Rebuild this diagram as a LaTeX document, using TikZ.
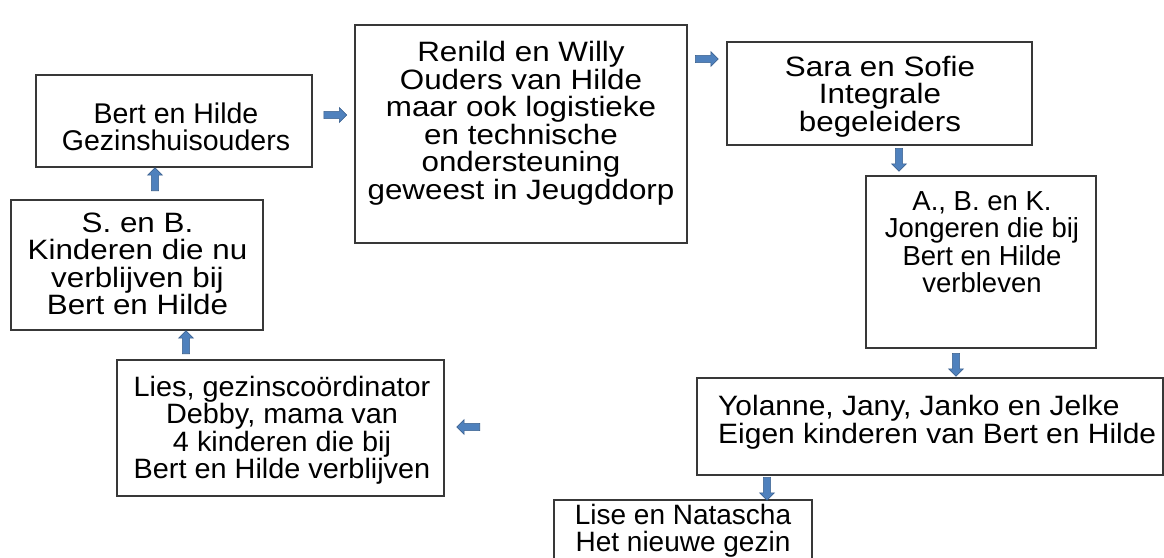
\documentclass[tikz,border=0pt]{standalone}
\usepackage{fontspec}
\setmainfont{Liberation Sans}
\newfontfamily\fstretchA[FakeStretch=1.12]{Liberation Sans}
\newfontfamily\fstretchB[FakeStretch=1.07]{Liberation Sans}
\newfontfamily\fstretchC[FakeStretch=1.03]{Liberation Sans}
\usetikzlibrary{shapes.arrows}
\definecolor{arrfill}{HTML}{4F81BD}
\definecolor{arrline}{HTML}{385D8A}
\definecolor{boxline}{HTML}{383838}
\newcommand\mytightlines{\lineskiplimit-16000pt\relax}
\newcommand\myboxfont[1]{\fontsize{#1}{27.5}\selectfont\mytightlines}
\begin{document}
\begin{tikzpicture}[x=1pt,y=-1pt,
  box/.style={draw=boxline, line width=1.3pt, fill=white, inner sep=0pt},
  txt/.style={inner sep=0pt, align=center, font={\myboxfont{#1}}},
  wideA/.style={txt=28, font={\fstretchA\myboxfont{28}}},
  wideB/.style={txt=28, font={\fstretchB\myboxfont{28}}},
  wideC/.style={txt=28, font={\fstretchC\myboxfont{28}}},
  barrow/.style={single arrow, draw=arrline, fill=arrfill, line width=0.6pt, minimum height=23pt, inner sep=3.3pt, single arrow head extend=3.8pt}]
\useasboundingbox (0,0) rectangle (1164,557);
\clip (0,0) rectangle (1164,557);
% boxes
\node[box, minimum width=276pt, minimum height=92pt] (b1) at (174,121) {};
\node[txt=28.5] (b1t) at (176,131) {\strut Bert en Hilde\\Gezinshuisouders\strut};
\node[box, minimum width=252pt, minimum height=130pt] (b2) at (137,265) {};
\node[wideA] (b2t) at (137.5,268) {\strut S. en B.\\Kinderen die nu\\verblijven bij\\Bert en Hilde\strut};
\node[box, minimum width=327pt, minimum height=136pt] (b3) at (280.5,428) {};
\node[wideC] (b3t) at (282,431.5) {\strut Lies, gezinscoördinator\\Debby, mama van\\4 kinderen die bij\\Bert en Hilde verblijven\strut};
\node[box, minimum width=332pt, minimum height=218pt] (b4) at (521,134) {};
\node[wideA] (b4t) at (521,124.5) {\strut Renild en Willy\\Ouders van Hilde\\maar ook logistieke\\en technische\\ondersteuning\\geweest in Jeugddorp\strut};
\node[box, minimum width=305pt, minimum height=103pt] (b5) at (879.5,93.5) {};
\node[wideA] (b5t) at (880,97.5) {\strut Sara en Sofie\\Integrale\\begeleiders\strut};
\node[box, minimum width=230pt, minimum height=172pt] (b6) at (981,262) {};
\node[txt=27.5] (b6t) at (982,246) {\strut A., B. en K.\\Jongeren die bij\\Bert en Hilde\\verbleven\strut};
\node[box, minimum width=466pt, minimum height=97pt] (b7) at (930,426.5) {};
\node[wideB, align=left, anchor=west] (b7t) at (718,423.5) {\strut Yolanne, Jany, Janko en Jelke\\Eigen kinderen van Bert en Hilde\strut};
\node[box, minimum width=258pt, minimum height=75pt] (b8) at (683,537.5) {};
\node[txt=28] (b8t) at (683,531) {\strut Lise en Natascha\\Het nieuwe gezin};
% block arrows
\node[barrow] (a1) at (333.5,115) {};
\node[barrow] (a2) at (705,59) {};
\node[barrow, rotate=-90] (a3) at (899,158) {};
\node[barrow, rotate=-90] (a4) at (956,363) {};
\node[barrow, rotate=-90] (a5) at (767,487) {};
\node[barrow, rotate=180] (a6) at (470,427) {};
\node[barrow, rotate=90] (a7) at (186,344) {};
\node[barrow, rotate=90] (a8) at (155,181) {};
\end{tikzpicture}
\end{document}
